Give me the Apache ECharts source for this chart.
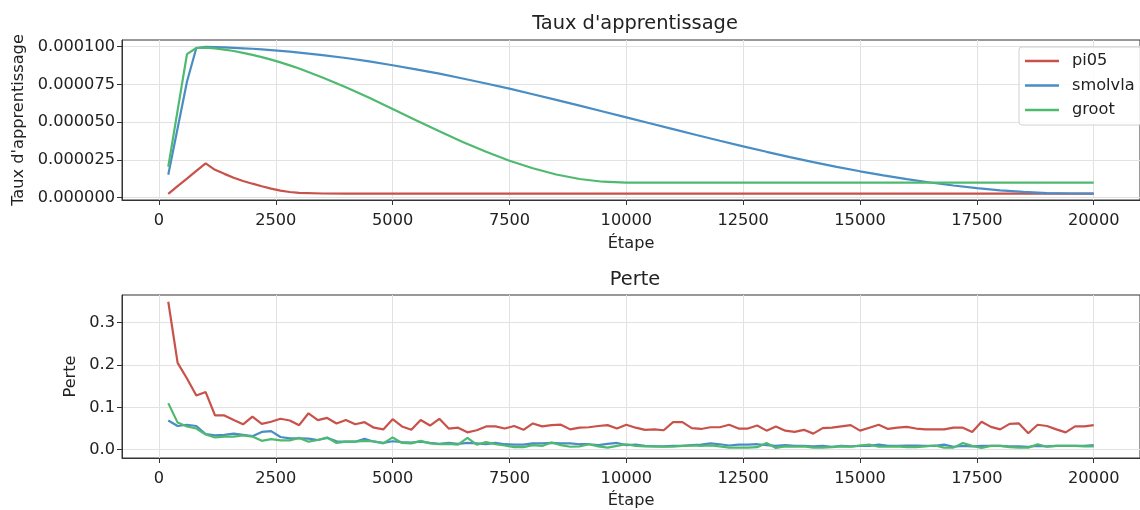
<!DOCTYPE html>
<html>
<head>
<meta charset="utf-8">
<script src="https://cdn.jsdelivr.net/npm/echarts@6/dist/echarts.min.js"></script>
<style>
  html, body { margin: 0; padding: 0; background: #ffffff; }
  #chart { width: 1140px; height: 510px; }
</style>
</head>
<body>
<div id="chart"></div>
<script>
// Learning-rate schedule, sampled at these steps
const lrSteps = [200, 400, 600, 800, 1000, 1200, 1400, 1600, 1800, 2000, 2200, 2400, 2600, 2800, 3000,
  3500, 4000, 4500, 5000, 5500, 6000, 6500, 7000, 7500, 8000, 8500, 9000, 9500, 10000,
  10500, 11000, 11500, 12000, 12500, 13000, 13500, 14000, 14500, 15000, 15500, 16000,
  16500, 17000, 17500, 18000, 18500, 19000, 19500, 20000];

const lrPi05 = [2.6e-6, 7.7e-6, 12.7e-6, 17.8e-6, 22.8e-6, 18.5e-6, 15.8e-6, 13.2e-6, 11.1e-6, 9.3e-6,
  7.6e-6, 6.0e-6, 4.7e-6, 3.8e-6, 3.2e-6,
  2.8e-6, 2.7e-6, 2.7e-6, 2.7e-6, 2.7e-6, 2.7e-6, 2.7e-6, 2.7e-6, 2.7e-6, 2.7e-6, 2.7e-6, 2.7e-6, 2.7e-6, 2.7e-6,
  2.7e-6, 2.7e-6, 2.7e-6, 2.7e-6, 2.7e-6, 2.7e-6, 2.7e-6, 2.7e-6, 2.7e-6, 2.7e-6, 2.7e-6, 2.7e-6,
  2.7e-6, 2.7e-6, 2.7e-6, 2.7e-6, 2.7e-6, 2.7e-6, 2.7e-6, 2.7e-6];

const lrSmolvla = [15.2e-6, 46.0e-6, 76.8e-6, 99.1e-6, 99.8e-6, 99.7e-6, 99.5e-6, 99.2e-6, 98.9e-6, 98.6e-6,
  98.2e-6, 97.7e-6, 97.2e-6, 96.7e-6, 96.1e-6,
  94.4e-6, 92.5e-6, 90.2e-6, 87.7e-6, 85.0e-6, 82.1e-6, 78.9e-6, 75.6e-6, 72.2e-6, 68.5e-6, 64.8e-6, 61.0e-6, 57.1e-6, 53.2e-6,
  49.3e-6, 45.4e-6, 41.5e-6, 37.7e-6, 34.0e-6, 30.4e-6, 26.9e-6, 23.6e-6, 20.4e-6, 17.5e-6, 14.8e-6, 12.3e-6,
  10.1e-6, 8.1e-6, 6.4e-6, 4.9e-6, 3.9e-6, 3.1e-6, 2.8e-6, 2.7e-6];

const lrGroot = [20.5e-6, 57.8e-6, 95.0e-6, 99.1e-6, 99.4e-6, 98.8e-6, 98.0e-6, 97.1e-6, 95.9e-6, 94.6e-6,
  93.1e-6, 91.4e-6, 89.6e-6, 87.6e-6, 85.5e-6,
  79.6e-6, 73.1e-6, 66.1e-6, 58.7e-6, 51.3e-6, 44.0e-6, 36.9e-6, 30.4e-6, 24.5e-6, 19.5e-6, 15.4e-6, 12.4e-6, 10.6e-6, 10.0e-6,
  10.0e-6, 10.0e-6, 10.0e-6, 10.0e-6, 10.0e-6, 10.0e-6, 10.0e-6, 10.0e-6, 10.0e-6, 10.0e-6, 10.0e-6, 10.0e-6,
  10.0e-6, 10.0e-6, 10.0e-6, 10.0e-6, 10.0e-6, 10.0e-6, 10.0e-6, 10.0e-6];

// Training loss, logged every 200 steps
const lossSteps = [200, 400, 600, 800, 1000, 1200, 1400, 1600, 1800, 2000,
  2200, 2400, 2600, 2800, 3000, 3200, 3400, 3600, 3800, 4000,
  4200, 4400, 4600, 4800, 5000, 5200, 5400, 5600, 5800, 6000,
  6200, 6400, 6600, 6800, 7000, 7200, 7400, 7600, 7800, 8000,
  8200, 8400, 8600, 8800, 9000, 9200, 9400, 9600, 9800, 10000,
  10200, 10400, 10600, 10800, 11000, 11200, 11400, 11600, 11800, 12000,
  12200, 12400, 12600, 12800, 13000, 13200, 13400, 13600, 13800, 14000,
  14200, 14400, 14600, 14800, 15000, 15200, 15400, 15600, 15800, 16000,
  16200, 16400, 16600, 16800, 17000, 17200, 17400, 17600, 17800, 18000,
  18200, 18400, 18600, 18800, 19000, 19200, 19400, 19600, 19800, 20000];

const lossPi05 = [0.349, 0.205, 0.168, 0.128, 0.136, 0.081, 0.081, 0.070, 0.060, 0.078,
  0.061, 0.066, 0.073, 0.069, 0.058, 0.086, 0.070, 0.075, 0.062, 0.070,
  0.060, 0.065, 0.052, 0.048, 0.072, 0.055, 0.047, 0.070, 0.057, 0.073,
  0.050, 0.052, 0.041, 0.046, 0.055, 0.055, 0.050, 0.056, 0.047, 0.062,
  0.055, 0.058, 0.059, 0.048, 0.052, 0.053, 0.056, 0.058, 0.050, 0.059,
  0.052, 0.047, 0.048, 0.046, 0.065, 0.065, 0.051, 0.049, 0.053, 0.053,
  0.059, 0.050, 0.050, 0.057, 0.045, 0.055, 0.045, 0.042, 0.047, 0.038,
  0.051, 0.052, 0.055, 0.058, 0.045, 0.052, 0.059, 0.049, 0.052, 0.054,
  0.050, 0.048, 0.048, 0.048, 0.052, 0.052, 0.042, 0.066, 0.054, 0.048,
  0.061, 0.062, 0.039, 0.059, 0.056, 0.048, 0.041, 0.055, 0.055, 0.058];

const lossSmolvla = [0.069, 0.056, 0.059, 0.056, 0.037, 0.034, 0.035, 0.038, 0.035, 0.032,
  0.042, 0.044, 0.030, 0.027, 0.027, 0.026, 0.023, 0.028, 0.020, 0.019,
  0.019, 0.026, 0.019, 0.016, 0.020, 0.018, 0.017, 0.019, 0.016, 0.014,
  0.016, 0.014, 0.016, 0.015, 0.013, 0.016, 0.013, 0.012, 0.012, 0.015,
  0.015, 0.016, 0.015, 0.015, 0.013, 0.013, 0.011, 0.014, 0.016, 0.011,
  0.012, 0.009, 0.008, 0.008, 0.009, 0.009, 0.011, 0.012, 0.015, 0.013,
  0.010, 0.012, 0.012, 0.013, 0.011, 0.009, 0.011, 0.009, 0.009, 0.008,
  0.009, 0.007, 0.009, 0.008, 0.009, 0.009, 0.012, 0.009, 0.009, 0.010,
  0.010, 0.009, 0.009, 0.012, 0.007, 0.009, 0.008, 0.009, 0.009, 0.009,
  0.008, 0.008, 0.007, 0.009, 0.008, 0.009, 0.009, 0.009, 0.009, 0.011];

const lossGroot = [0.110, 0.064, 0.055, 0.050, 0.036, 0.029, 0.031, 0.031, 0.034, 0.031,
  0.021, 0.025, 0.022, 0.022, 0.028, 0.019, 0.023, 0.029, 0.016, 0.019,
  0.019, 0.021, 0.020, 0.015, 0.029, 0.016, 0.015, 0.021, 0.015, 0.013,
  0.014, 0.012, 0.028, 0.012, 0.018, 0.013, 0.010, 0.006, 0.006, 0.011,
  0.009, 0.017, 0.011, 0.007, 0.008, 0.013, 0.008, 0.005, 0.009, 0.013,
  0.009, 0.008, 0.008, 0.007, 0.007, 0.009, 0.010, 0.009, 0.010, 0.008,
  0.005, 0.005, 0.005, 0.006, 0.016, 0.004, 0.008, 0.007, 0.008, 0.005,
  0.005, 0.006, 0.008, 0.007, 0.010, 0.012, 0.007, 0.007, 0.008, 0.006,
  0.006, 0.008, 0.010, 0.005, 0.005, 0.016, 0.009, 0.004, 0.009, 0.009,
  0.006, 0.005, 0.005, 0.013, 0.007, 0.009, 0.009, 0.009, 0.008, 0.008];

const stepTicks = [0, 2500, 5000, 7500, 10000, 12500, 15000, 17500, 20000];
const lrTicks = [0, 0.000025, 0.00005, 0.000075, 0.0001];
const lossTicks = [0, 0.1, 0.2, 0.3];

const seriesNames = ['pi05', 'smolvla', 'groot'];
const colors = ['#c8524a', '#4a8dc4', '#4fba6f'];

const FONT = 'DejaVu Sans';
const FS = 16.2;
const TXT = '#222222';
const SPINE = '#333333';
const GRIDLINE = '#e2e2e2';

function zip(xs, ys) { return xs.map((x, i) => [x, ys[i]]); }

function xAxisFor(gridIndex, nameGap) {
  return {
    type: 'value', gridIndex,
    min: -790, max: 20990,
    name: 'Étape', nameLocation: 'middle', nameGap,
    nameTextStyle: { fontFamily: FONT, fontSize: FS, color: TXT },
    axisLine: { show: true, onZero: false, lineStyle: { color: SPINE, width: 1 } },
    axisTick: { show: true, length: 5, customValues: stepTicks, lineStyle: { color: SPINE, width: 1 } },
    axisLabel: { customValues: stepTicks, margin: 13, fontFamily: FONT, fontSize: FS, color: TXT,
      formatter: v => String(v) },
    splitLine: { show: true, lineStyle: { color: GRIDLINE, width: 1 } }
  };
}

function yAxisFor(gridIndex, min, max, ticks, name, nameGap, fmt) {
  return {
    type: 'value', gridIndex, min, max,
    name, nameLocation: 'middle', nameRotate: 90, nameGap,
    nameTextStyle: { fontFamily: FONT, fontSize: FS, color: TXT },
    axisLine: { show: true, onZero: false, lineStyle: { color: SPINE, width: 1 } },
    axisTick: { show: true, length: 5, customValues: ticks, lineStyle: { color: SPINE, width: 1 } },
    axisLabel: { customValues: ticks, margin: 7, fontFamily: FONT, fontSize: FS, color: TXT, formatter: fmt },
    splitLine: { show: true, lineStyle: { color: GRIDLINE, width: 1 } }
  };
}

const lrValues = [lrPi05, lrSmolvla, lrGroot];
const lossValues = [lossPi05, lossSmolvla, lossGroot];

const series = [];
seriesNames.forEach((name, k) => {
  series.push({
    name, type: 'line', xAxisIndex: 0, yAxisIndex: 0,
    data: zip(lrSteps, lrValues[k]),
    symbol: 'none', showSymbol: false, smooth: false,
    lineStyle: { color: colors[k], width: 2.2 }, itemStyle: { color: colors[k] },
    z: 3
  });
});
seriesNames.forEach((name, k) => {
  series.push({
    name, type: 'line', xAxisIndex: 1, yAxisIndex: 1,
    data: zip(lossSteps, lossValues[k]),
    symbol: 'none', showSymbol: false, smooth: false,
    lineStyle: { color: colors[k], width: 2.2 }, itemStyle: { color: colors[k] },
    z: 3
  });
});

const chart = echarts.init(document.getElementById('chart'), null, { renderer: 'canvas' });
chart.setOption({
  animation: false,
  backgroundColor: '#ffffff',
  textStyle: { fontFamily: FONT },
  grid: [
    { left: 122, top: 40, width: 1026, height: 160, show: true, borderColor: SPINE, borderWidth: 1, backgroundColor: 'transparent' },
    { left: 122, top: 295, width: 1026, height: 164, show: true, borderColor: SPINE, borderWidth: 1, backgroundColor: 'transparent' }
  ],
  xAxis: [xAxisFor(0, 36), xAxisFor(1, 35)],
  yAxis: [
    yAxisFor(0, -1.5e-6, 1.044e-4, lrTicks, "Taux d'apprentissage", 95, v => v.toFixed(6)),
    yAxisFor(1, -0.0195, 0.365, lossTicks, 'Perte', 43, v => v.toFixed(1))
  ],
  legend: {
    data: seriesNames,
    orient: 'vertical',
    left: 1019, top: 47,
    padding: [4, 7, 5, 6],
    icon: 'rect',
    itemWidth: 34, itemHeight: 2.5, itemGap: 4.5,
    backgroundColor: 'rgba(255,255,255,0.85)',
    borderColor: '#d0d0d0', borderWidth: 1, borderRadius: 3,
    textStyle: { fontFamily: FONT, fontSize: FS, color: TXT, lineHeight: 20, padding: [0, 0, 0, 8] }
  },
  graphic: [
    { type: 'text', x: 635, y: 24, z: 10,
      style: { text: "Taux d'apprentissage", font: '19.4px "DejaVu Sans"', fill: TXT,
        align: 'center', verticalAlign: 'middle', textAlign: 'center', textVerticalAlign: 'middle' } },
    { type: 'text', x: 635, y: 280, z: 10,
      style: { text: 'Perte', font: '19.4px "DejaVu Sans"', fill: TXT,
        align: 'center', verticalAlign: 'middle', textAlign: 'center', textVerticalAlign: 'middle' } }
  ],
  series
});
</script>
</body>
</html>
